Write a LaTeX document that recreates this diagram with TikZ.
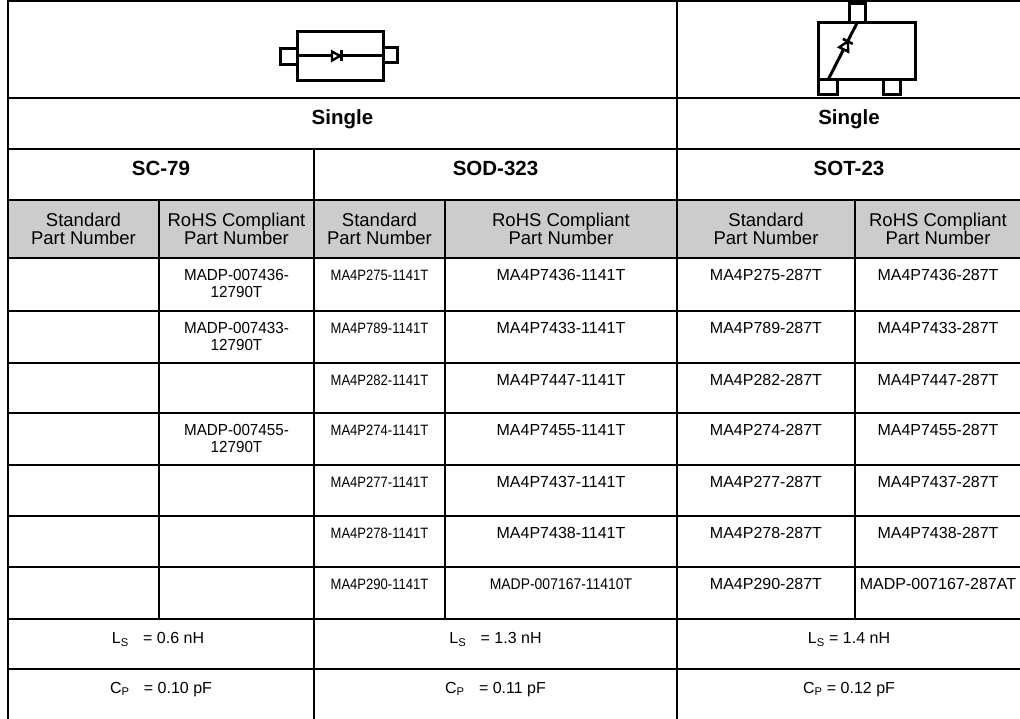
\documentclass[tikz,border=0pt]{standalone}
\usepackage{fontspec}
\usepackage{graphicx}
\setmainfont{Liberation Sans}
\newcommand{\fitA}[1]{{\fontsize{15}{16.4}\selectfont\scalebox{0.87}[1]{#1}}}
\newcommand{\fitB}[1]{{\fontsize{15.5}{16.4}\selectfont\scalebox{0.9}[1]{#1}}}
\newcommand{\fitC}[1]{\scalebox{0.95}[1]{#1}}
\begin{document}
\begin{tikzpicture}[x=1pt,y=-1pt,
  grid/.style={line width=1.3pt,black},
  sym/.style={line width=3pt,black,line join=miter},
  dat/.style={anchor=north,inner sep=0pt,align=center,font=\fontsize{16}{16.4}\selectfont},
  hdr/.style={anchor=north,inner sep=0pt,align=center,font=\fontsize{18.5}{17.4}\selectfont},
  big/.style={anchor=base,inner sep=0pt,font=\fontsize{20.5}{24}\selectfont\bfseries},
  par/.style={anchor=north,inner sep=0pt,font=\fontsize{16}{18}\selectfont}]
\clip (0,0) rectangle (1020,719);
\fill[white] (0,0) rectangle (1020,719);
% gray header row
\fill[black!20] (8,200) rectangle (1021,258);
% horizontal lines
\foreach \y in {1,98,149,200,258,311,363,413,465,516,567,619,669}
  \draw[grid] (8,\y) -- (1022,\y);
% vertical lines
\draw[grid] (8,0) -- (8,719);
\draw[grid] (677,1) -- (677,719);
\draw[grid] (314,149) -- (314,719);
\foreach \x in {159,445,855} \draw[grid] (\x,200) -- (\x,619);
\draw[grid] (1021,1) -- (1021,719);
% symbol 1 : two-terminal package
\draw[sym] (297,32) rectangle (383,81);
\draw[sym] (280,49) rectangle (297,65);
\draw[sym] (383,48) rectangle (397,63);
\draw[sym] (297,56) -- (383,56);
\draw[sym,fill=white,line width=2.4pt] (332,51.5) -- (332,60.5) -- (340,56) -- cycle;
\draw[sym,line width=2.6pt] (341.5,50.5) -- (341.5,61.5);
% symbol 2 : SOT-23
\draw[sym] (818,23) rectangle (915,80);
\draw[sym] (849,4) rectangle (865,23);
\draw[sym] (818,80) rectangle (837,95);
\draw[sym] (883,80) rectangle (900,95);
\draw[sym] (857,23) -- (828,80);
\draw[sym,fill=white,line width=2.4pt] (848.2,51.7) -- (839.3,47.2) -- (847.8,41.4) -- cycle;
\draw[sym,line width=2.6pt] (842.9,38.9) -- (852.7,43.9);
% headings
\node[big] (s1) at (342.5,125) {Single};
\node[big] (s2) at (849,125) {Single};
\node[big] (p1) at (161,176) {SC-79};
\node[big] (p2) at (495.5,176) {SOD-323};
\node[big] (p3) at (849,176) {SOT-23};
% column headers
\foreach \x/\t [count=\i] in {83.5/Standard\\Part Number, 236.5/RoHS Compliant\\Part Number,
   379.5/Standard\\Part Number, 561/RoHS Compliant\\Part Number,
   766/Standard\\Part Number, 938/RoHS Compliant\\Part Number}
  \node[hdr] (h\i) at (\x,213) {\t};
% data rows
\node[dat] (a12) at (236.5,269.5) {\fitC{MADP-007436-}\\\fitC{12790T}};
\node[dat] (a13) at (379.5,270) {\fitA{MA4P275-1141T}};
\node[dat] (a14) at (561,269.5) {MA4P7436-1141T};
\node[dat] (a15) at (766,269.5) {MA4P275-287T};
\node[dat] (a16) at (938,269.5) {MA4P7436-287T};
\node[dat] (a22) at (236.5,322.5) {\fitC{MADP-007433-}\\\fitC{12790T}};
\node[dat] (a23) at (379.5,323) {\fitA{MA4P789-1141T}};
\node[dat] (a24) at (561,322.5) {MA4P7433-1141T};
\node[dat] (a25) at (766,322.5) {MA4P789-287T};
\node[dat] (a26) at (938,322.5) {MA4P7433-287T};
\node[dat] (a33) at (379.5,375) {\fitA{MA4P282-1141T}};
\node[dat] (a34) at (561,374.5) {MA4P7447-1141T};
\node[dat] (a35) at (766,374.5) {MA4P282-287T};
\node[dat] (a36) at (938,374.5) {MA4P7447-287T};
\node[dat] (a42) at (236.5,424.5) {\fitC{MADP-007455-}\\\fitC{12790T}};
\node[dat] (a43) at (379.5,425) {\fitA{MA4P274-1141T}};
\node[dat] (a44) at (561,424.5) {MA4P7455-1141T};
\node[dat] (a45) at (766,424.5) {MA4P274-287T};
\node[dat] (a46) at (938,424.5) {MA4P7455-287T};
\node[dat] (a53) at (379.5,477) {\fitA{MA4P277-1141T}};
\node[dat] (a54) at (561,476.5) {MA4P7437-1141T};
\node[dat] (a55) at (766,476.5) {MA4P277-287T};
\node[dat] (a56) at (938,476.5) {MA4P7437-287T};
\node[dat] (a63) at (379.5,528) {\fitA{MA4P278-1141T}};
\node[dat] (a64) at (561,527.5) {MA4P7438-1141T};
\node[dat] (a65) at (766,527.5) {MA4P278-287T};
\node[dat] (a66) at (938,527.5) {MA4P7438-287T};
\node[dat] (a73) at (379.5,579) {\fitA{MA4P290-1141T}};
\node[dat] (a74) at (561,578.8) {\fitB{MADP-007167-11410T}};
\node[dat] (a75) at (766,578.5) {MA4P290-287T};
\node[dat] (a76) at (938,578.5) {MADP-007167-287AT};
% parasitics
\node[par] (l1) at (158,632.5) {L\textsubscript{S}\hspace{0.9em}= 0.6 nH};
\node[par] (l2) at (495.5,632.5) {L\textsubscript{S}\hspace{0.9em}= 1.3 nH};
\node[par] (l3) at (849,632.5) {L\textsubscript{S} = 1.4 nH};
\node[par] (c1) at (161,682) {C\textsubscript{P}\hspace{0.9em}= 0.10 pF};
\node[par] (c2) at (495.5,682) {C\textsubscript{P}\hspace{0.9em}= 0.11 pF};
\node[par] (c3) at (849,682) {C\textsubscript{P} = 0.12 pF};
\end{tikzpicture}
\end{document}
